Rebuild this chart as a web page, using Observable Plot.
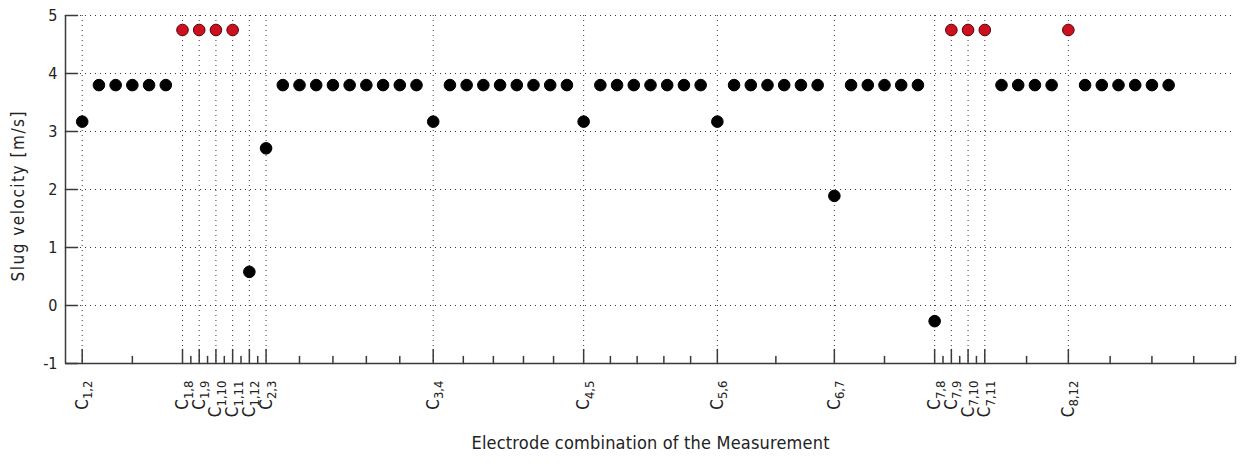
<!DOCTYPE html>
<html><head><meta charset="utf-8">
<script src="https://cdn.jsdelivr.net/npm/d3@7"></script>
<script src="https://cdn.jsdelivr.net/npm/@observablehq/plot@0.6"></script>
<style>body{margin:0;background:#fff}</style>
</head><body><div id="chart"></div>
<script>
const measurementIndex = [1,2,3,4,5,6,7,8,9,10,11,12,13,14,15,16,17,18,19,20,21,22,23,24,25,26,27,28,29,30,31,32,33,34,35,36,37,38,39,40,41,42,43,44,45,46,47,48,49,50,51,52,53,54,55,56,57,58,59,60,61,62,63,64,65,66];
const velocity = [3.17,3.8,3.8,3.8,3.8,3.8,4.75,4.75,4.75,4.75,0.58,2.71,3.8,3.8,3.8,3.8,3.8,3.8,3.8,3.8,3.8,3.17,3.8,3.8,3.8,3.8,3.8,3.8,3.8,3.8,3.17,3.8,3.8,3.8,3.8,3.8,3.8,3.8,3.17,3.8,3.8,3.8,3.8,3.8,3.8,1.89,3.8,3.8,3.8,3.8,3.8,-0.27,4.75,4.75,4.75,3.8,3.8,3.8,3.8,4.75,3.8,3.8,3.8,3.8,3.8,3.8];
const flaggedIndex = [7,8,9,10,53,54,55,60];
const majorTicks = [1,7,8,9,10,11,12,22,31,39,46,52,53,54,55,60];
const majorLabels = ["1,2","1,8","1,9","1,10","1,11","1,12","2,3","3,4","4,5","5,6","6,7","7,8","7,9","7,10","7,11","8,12"];
const minorTicks = [4,7.5,8.5,9.5,10.5,11.5,14,16,18,20,23.8,25.6,27.4,29.2,32.6,34.2,35.8,37.4,42.5,49,52.5,53.5,54.5,57.5,62.5,65,67.5,70];
const yTicks = [-1,0,1,2,3,4,5];
const xLabel = "Electrode combination of the Measurement";
const yLabel = "Slug velocity [m/s]";

const data = measurementIndex.map((i, k) => ({i, v: velocity[k], flagged: flaggedIndex.includes(i)}));
const tickShape = {draw(ctx, l) { ctx.moveTo(0, 0); ctx.lineTo(0, -l); }};
const font = "'DejaVu Sans Condensed', 'DejaVu Sans', sans-serif";
const axisColor = "#3a3a3a";
const grid = {stroke: "#222", strokeOpacity: 0.9, strokeDasharray: "1,4", strokeWidth: 1};

const svg = Plot.plot({
  width: 1245, height: 466,
  marginLeft: 65, marginRight: 10, marginTop: 15, marginBottom: 103,
  style: {fontFamily: font, fontSize: "15px", color: "#222", background: "#fff"},
  x: {domain: [0, 70]},
  y: {domain: [-1, 5]},
  marks: [
    Plot.gridY(yTicks, {...grid}),
    Plot.gridX(majorTicks, {...grid}),
    Plot.ruleX([0], {stroke: axisColor, strokeWidth: 1.5}),
    Plot.ruleY([-1], {stroke: axisColor, strokeWidth: 1.5}),
    Plot.vector(yTicks, {x: 0, y: d => d, rotate: 90, length: 12, anchor: "start", shape: tickShape, stroke: axisColor, strokeWidth: 1.5}),
    Plot.vector(majorTicks, {x: d => d, y: -1, rotate: 0, length: 14, anchor: "start", shape: tickShape, stroke: axisColor, strokeWidth: 1.5}),
    Plot.vector(minorTicks, {x: d => d, y: -1, rotate: 0, length: 7, anchor: "start", shape: tickShape, stroke: axisColor, strokeWidth: 1.5}),
    Plot.axisY(yTicks, {tickSize: 0, tickPadding: 8, fontSize: 16, tickFormat: d => String(d), label: null}),
    Plot.axisX(majorTicks, {tickSize: 0, tickPadding: 17, tickRotate: -90, fontSize: 17, tickFormat: d => majorLabels[majorTicks.indexOf(d)], label: null}),
    Plot.text([yLabel], {frameAnchor: "left", textAnchor: "middle", dx: -47, dy: 7, rotate: -90, fontSize: 17, fill: "#222"}),
    Plot.text([xLabel], {frameAnchor: "bottom", textAnchor: "middle", dy: 85, fontSize: 18, fill: "#222"}),
    Plot.dot(data, {x: "i", y: "v", r: 5.8, fill: d => d.flagged ? "#cc1020" : "#000", stroke: d => d.flagged ? "#5a0000" : "#000", strokeWidth: 1})
  ]
});

d3.select(svg).selectAll('g[aria-label="x-axis tick label"] text').each(function() {
  const t = this.textContent;
  this.textContent = "";
  d3.select(this).append("tspan").text("C");
  d3.select(this).append("tspan").attr("dy", "0.35em").attr("font-size", "13px").text(t);
});
const fit = {[yLabel]: 170, [xLabel]: 358};
d3.select(svg).selectAll('g[aria-label="text"] text').each(function() {
  const len = fit[this.textContent];
  if (len) d3.select(this).attr("textLength", len).attr("lengthAdjust", "spacing");
});
document.getElementById("chart").appendChild(svg);
</script>
</body></html>
